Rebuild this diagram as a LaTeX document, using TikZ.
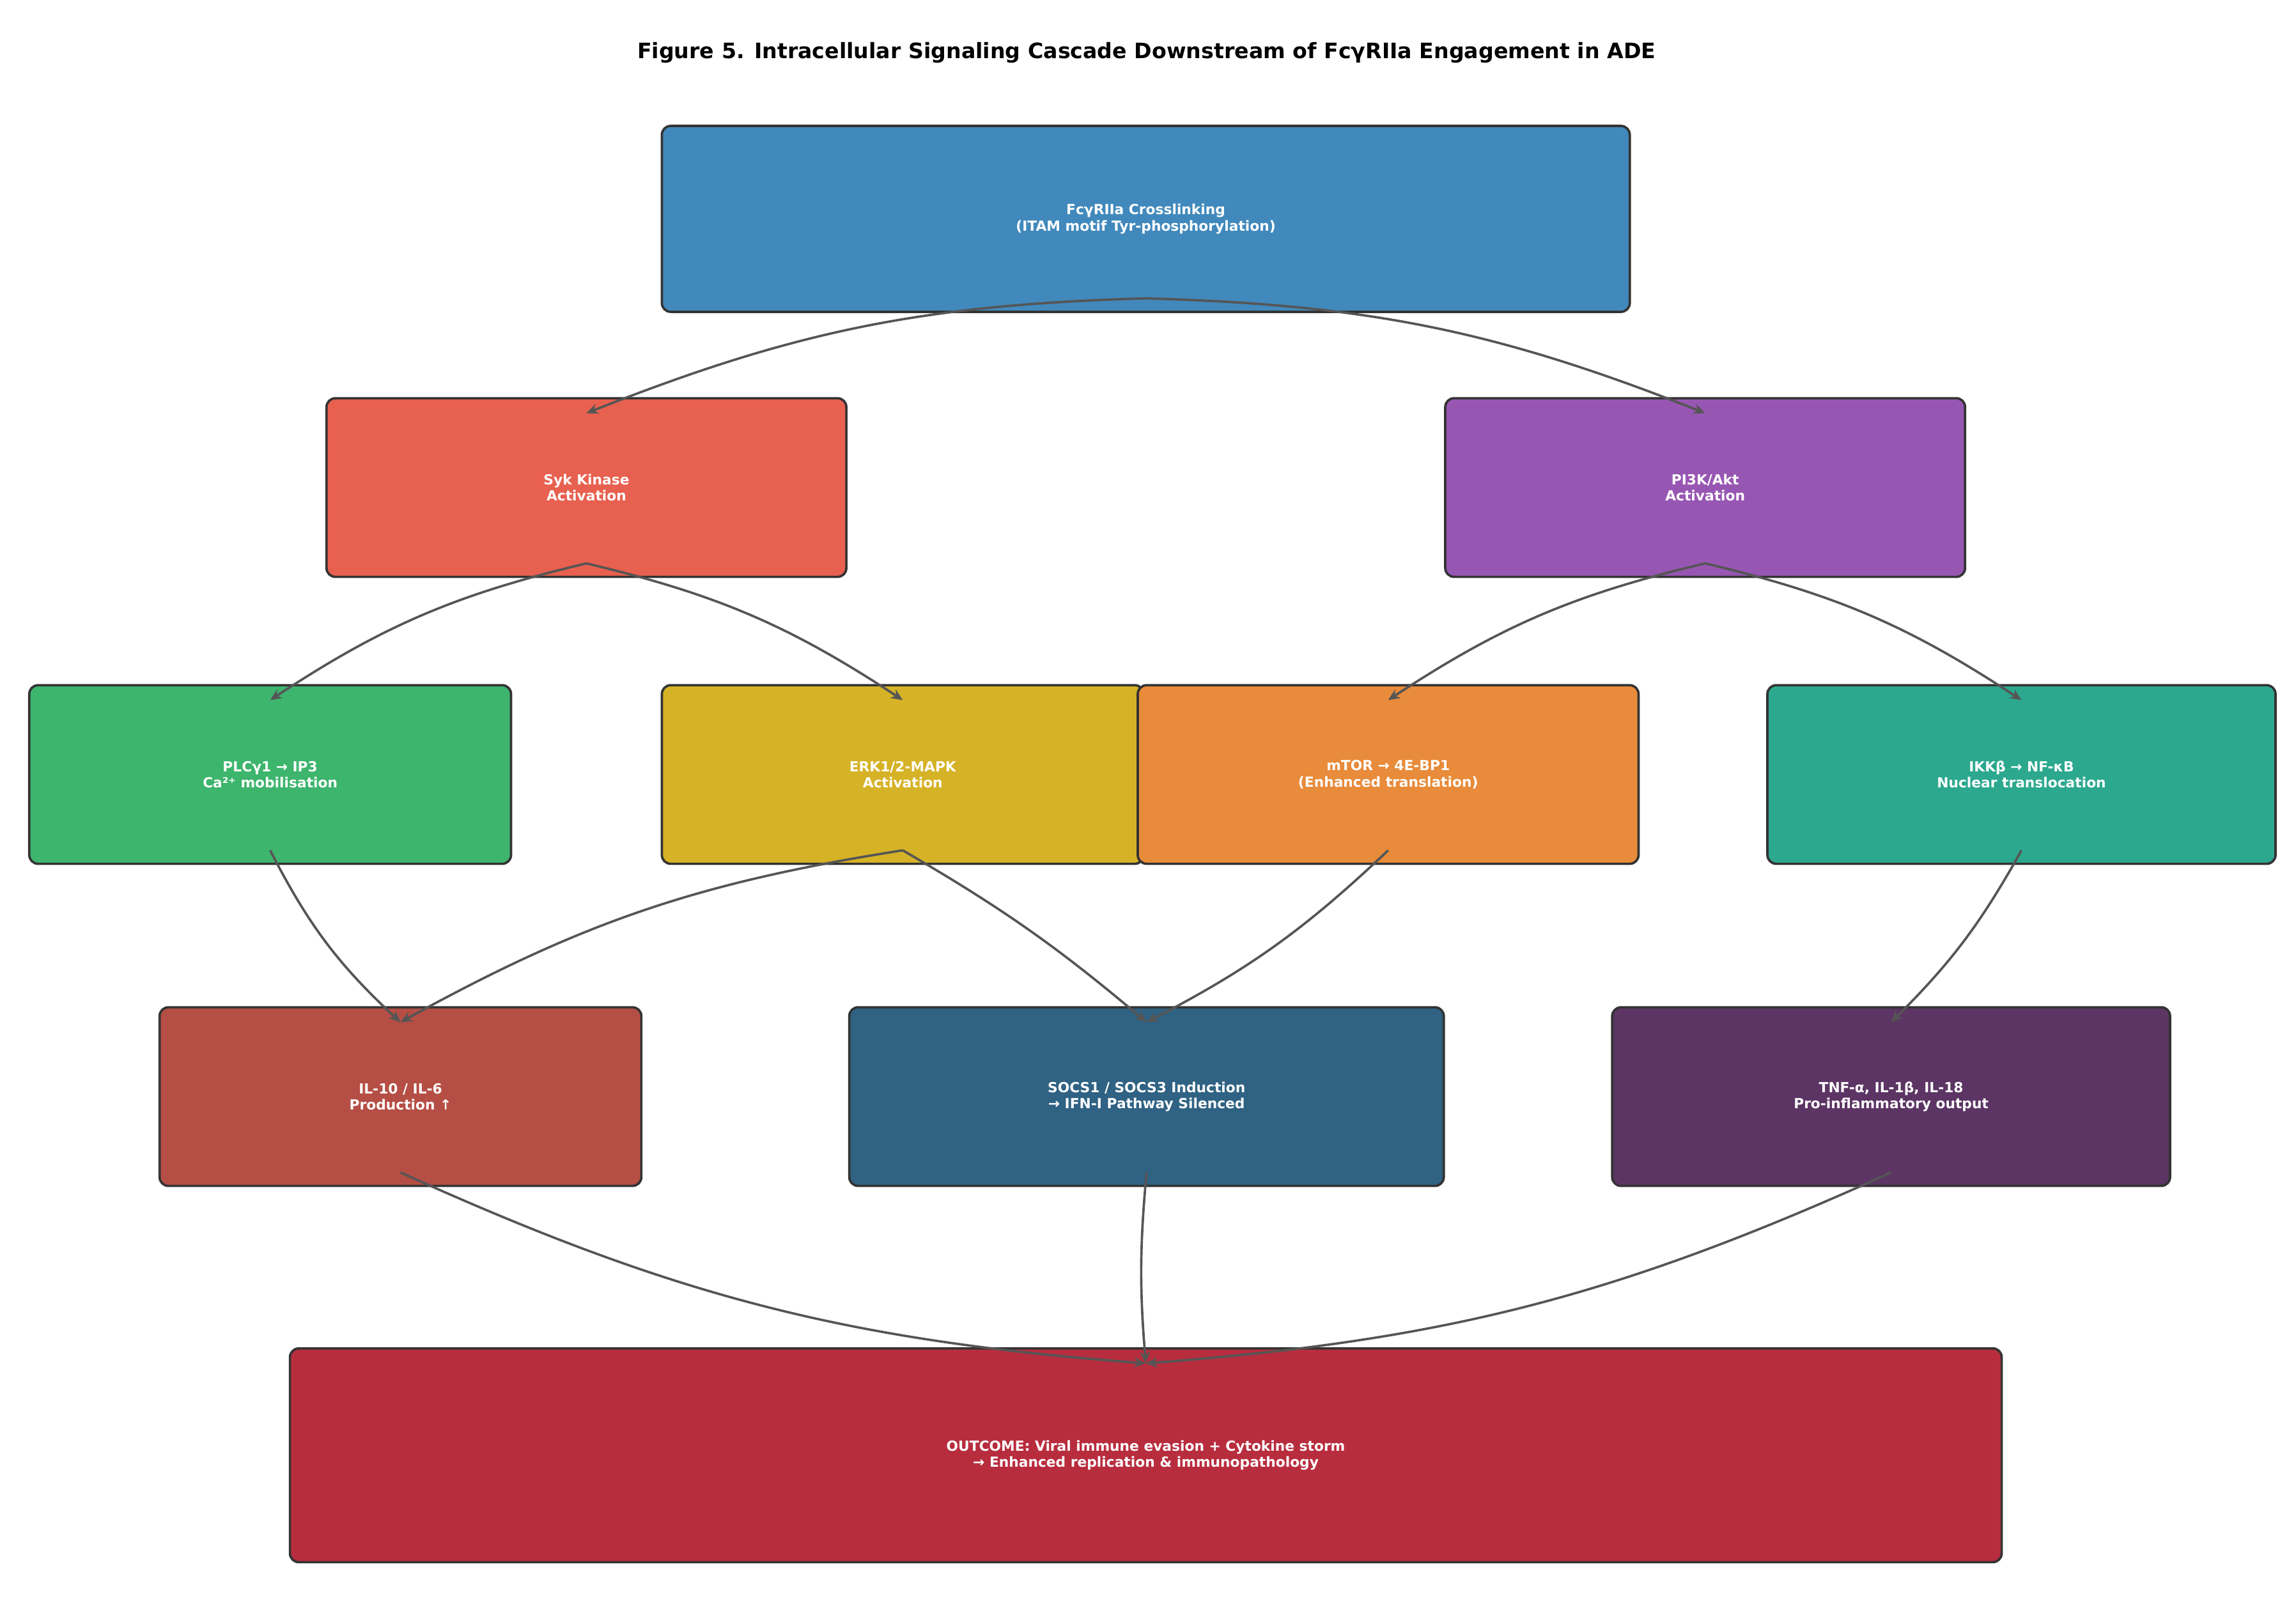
\documentclass[tikz,border=0pt]{standalone}
\usepackage{fontspec}
\setmainfont{DejaVu Sans}
\usetikzlibrary{arrows.meta, positioning}

\definecolor{cTop}{HTML}{4189BC}
\definecolor{cSyk}{HTML}{E8604F}
\definecolor{cPik}{HTML}{9856B3}
\definecolor{cPlc}{HTML}{3DB56D}
\definecolor{cErk}{HTML}{D6B226}
\definecolor{cMtor}{HTML}{E88B3A}
\definecolor{cIkk}{HTML}{2CA88F}
\definecolor{cIl}{HTML}{B54E44}
\definecolor{cSocs}{HTML}{2F6283}
\definecolor{cTnf}{HTML}{5C3564}
\definecolor{cOut}{HTML}{B82D3E}
\definecolor{cEdge}{HTML}{333333}
\definecolor{cArr}{HTML}{555555}

\tikzset{
    box/.style={draw=cEdge, line width=1.6pt, rounded corners=6pt, text=white,
        font=\bfseries\fontsize{9.5}{11}\selectfont, align=center, inner sep=0pt},
    arr/.style={draw=cArr, line width=1.6pt, -{Stealth[length=8pt,width=7pt]}}
}

\begin{document}
\begin{tikzpicture}[x=1pt, y=-1pt]

        \fill[white] (0,0) rectangle (1568,1103);
        \useasboundingbox (0,0) rectangle (1568,1103);

        \node[font=\bfseries\fontsize{14.5}{16}\selectfont] (title) at (783,36)
            {Figure 5. Intracellular Signaling Cascade Downstream of FcγRIIa Engagement in ADE};

        % Receptor level
        \node[box, fill=cTop, minimum width=661pt, minimum height=127pt] (fc) at (782.5,149.5)
            {FcγRIIa Crosslinking\\(ITAM motif Tyr-phosphorylation)};

        % Kinase level
        \node[box, fill=cSyk, minimum width=355pt, minimum height=122pt] (syk) at (400.5,333)
            {Syk Kinase\\Activation};
        \node[box, fill=cPik, minimum width=355pt, minimum height=122pt] (pik) at (1164.5,333)
            {PI3K/Akt\\Activation};

        % Effector level
        \node[box, fill=cPlc, minimum width=329pt, minimum height=122pt] (plc) at (184.5,529)
            {PLCγ1 → IP3\\Ca²⁺ mobilisation};
        \node[box, fill=cErk, minimum width=329pt, minimum height=122pt] (erk) at (616.5,529)
            {ERK1/2-MAPK\\Activation};
        \node[box, fill=cMtor, minimum width=342pt, minimum height=122pt] (mtor) at (948,529)
            {mTOR → 4E-BP1\\(Enhanced translation)};
        \node[box, fill=cIkk, minimum width=347pt, minimum height=122pt] (ikk) at (1380.5,529)
            {IKKβ → NF-κB\\Nuclear translocation};

        % Output level
        \node[box, fill=cIl, minimum width=329pt, minimum height=122pt] (il) at (273.5,749)
            {IL-10 / IL-6\\Production ↑};
        \node[box, fill=cSocs, minimum width=406pt, minimum height=122pt] (socs) at (783,749)
            {SOCS1 / SOCS3 Induction\\→ IFN-I Pathway Silenced};
        \node[box, fill=cTnf, minimum width=381pt, minimum height=122pt] (tnf) at (1291.5,749)
            {TNF-α, IL-1β, IL-18\\Pro-inflammatory output};

        % Outcome
        \node[box, fill=cOut, minimum width=1169pt, minimum height=146pt] (out) at (782.5,994)
            {OUTCOME: Viral immune evasion + Cytokine storm\\→ Enhanced replication \& immunopathology};

        \draw[arr] ([yshift=10pt]fc.south) to[bend right=10] ([yshift=-11pt]syk.north);
        \draw[arr] ([yshift=10pt]fc.south) to[bend left=10] ([yshift=-11pt]pik.north);
        \draw[arr] ([yshift=10pt]syk.south) to[bend right=10] ([yshift=-11pt]plc.north);
        \draw[arr] ([yshift=10pt]syk.south) to[bend left=10] ([yshift=-11pt]erk.north);
        \draw[arr] ([yshift=10pt]pik.south) to[bend right=10] ([yshift=-11pt]mtor.north);
        \draw[arr] ([yshift=10pt]pik.south) to[bend left=10] ([yshift=-11pt]ikk.north);
        \draw[arr] ([yshift=10pt]plc.south) to[bend right=10] ([yshift=-11pt]il.north);
        \draw[arr] ([yshift=10pt]erk.south) to[bend right=10] ([yshift=-11pt]il.north);
        \draw[arr] ([yshift=10pt]erk.south) to[bend left=5] ([yshift=-11pt]socs.north);
        \draw[arr] ([yshift=10pt]mtor.south) to[bend left=8] ([yshift=-11pt]socs.north);
        \draw[arr] ([yshift=10pt]ikk.south) to[bend left=8] ([yshift=-11pt]tnf.north);
        \draw[arr] ([yshift=10pt]il.south) to[bend right=10] ([yshift=-11pt]out.north);
        \draw[arr] ([yshift=10pt]socs.south) to[bend right=5] ([yshift=-11pt]out.north);
        \draw[arr] ([yshift=10pt]tnf.south) to[bend left=10] ([yshift=-11pt]out.north);

\end{tikzpicture}
\end{document}
